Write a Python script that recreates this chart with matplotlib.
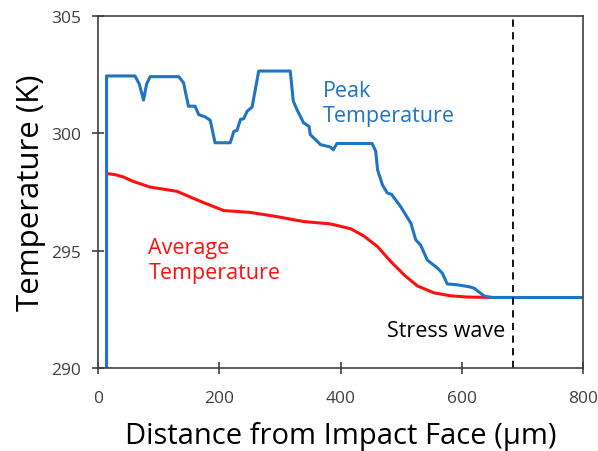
import matplotlib
matplotlib.use("Agg")
import matplotlib.pyplot as plt

plt.rcParams['font.family'] = ['Open Sans', 'DejaVu Sans']

# peak temperature along the sample (um, K)
peak_x = [14, 14, 61, 68, 75, 80, 86, 133, 141, 149, 160, 166, 177, 185, 193,
          218, 224, 229, 235, 240, 246, 254, 265, 317, 322, 328, 339, 348, 350,
          367, 383, 388, 394, 452, 458, 461, 469, 477, 484, 499, 504, 516, 524,
          532, 543, 560, 568, 576, 593, 612, 620, 637, 650, 800]
peak_T = [290.0, 302.45, 302.45, 302.1, 301.42, 302.1, 302.42, 302.42, 302.16,
          301.16, 301.16, 300.8, 300.7, 300.56, 299.6, 299.6, 300.09, 300.12,
          300.6, 300.62, 300.95, 301.12, 302.66, 302.66, 301.38, 301.02, 300.45,
          300.3, 299.95, 299.52, 299.42, 299.3, 299.57, 299.57, 299.24, 298.45,
          297.81, 297.46, 297.4, 296.88, 296.67, 296.17, 295.46, 295.24, 294.6,
          294.25, 294.03, 293.58, 293.54, 293.46, 293.4, 293.06, 293.0, 293.0]

# average temperature along the sample (um, K)
avg_x = [17, 28, 42, 58, 86, 130, 169, 207, 251, 295, 339, 383, 417, 438,
         461, 483, 505, 527, 554, 582, 609, 653, 685]
avg_T = [298.28, 298.24, 298.14, 297.95, 297.71, 297.53, 297.1, 296.71, 296.63,
         296.45, 296.24, 296.14, 295.93, 295.63, 295.17, 294.53, 293.96, 293.49,
         293.2, 293.07, 293.02, 293.0, 293.0]

stress_wave_x = 685

blue = '#1f74c4'
red = '#ff1010'
grey = '#404040'

fig = plt.figure(figsize=(5.98, 4.52), dpi=100)
ax = fig.add_axes([0.164, 0.184, 0.811, 0.778])

ax.plot(avg_x, avg_T, color=red, lw=2.2, solid_joinstyle='round')
ax.plot(peak_x, peak_T, color=blue, lw=2.2, solid_joinstyle='round')
ax.axvline(stress_wave_x, color='black', lw=1.3, ls=(0, (4, 3)))

ax.text(371, 301.3, 'Peak\nTemperature', color=blue, fontsize=15.5,
        linespacing=1.3, va='center', ha='left')
ax.text(83, 294.6, 'Average\nTemperature', color=red, fontsize=15.5,
        linespacing=1.3, va='center', ha='left')
ax.text(stress_wave_x - 14, 291.6, 'Stress wave', color='black', fontsize=15.5,
        va='center', ha='right')

ax.set_xlim(0, 800)
ax.set_ylim(290, 305)
ax.set_xticks([0, 200, 400, 600, 800])
ax.set_yticks([290, 295, 300, 305])

ax.set_xlabel('Distance from Impact Face (µm)', fontsize=21, labelpad=11)
ax.set_ylabel('Temperature (K)', fontsize=22.5, labelpad=4)

for s in ax.spines.values():
    s.set_color('#404040')
    s.set_linewidth(1.2)
ax.tick_params(direction='inout', length=8, width=1.2, color='#404040',
               labelsize=12.5, labelcolor=grey)
ax.tick_params(axis='x', pad=12)
ax.tick_params(axis='y', pad=8)

fig.savefig('out.png', dpi=100)
